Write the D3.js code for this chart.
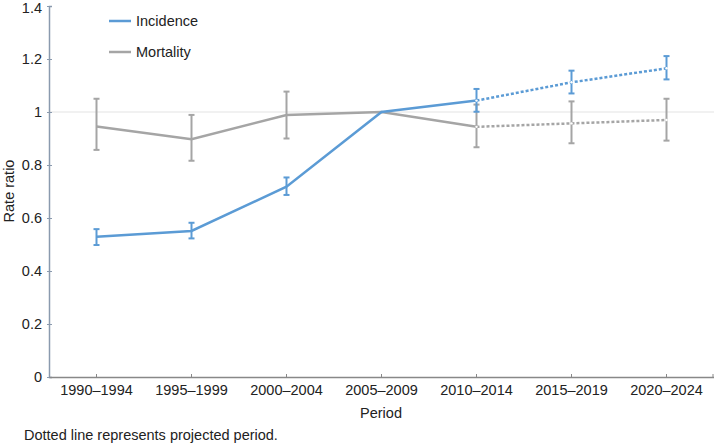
<!DOCTYPE html>
<html><head><meta charset="utf-8">
<script src="https://cdn.jsdelivr.net/npm/d3@7"></script>
<style>body{margin:0;background:#fff}svg{display:block;font-family:"Liberation Sans",Arial,sans-serif}</style>
</head><body><svg id="c" width="714" height="443"></svg>
<script>
const periods = ["1990–1994","1995–1999","2000–2004","2005–2009","2010–2014","2015–2019","2020–2024"];
const incidence = [0.529,0.551,0.718,1.0,1.043,1.112,1.165];
const incidenceLow = [0.498,0.523,0.687,1.0,1.001,1.07,1.123];
const incidenceHigh = [0.558,0.582,0.753,1.0,1.087,1.156,1.211];
const mortality = [0.945,0.897,0.989,1.0,0.944,0.957,0.97];
const mortalityLow = [0.857,0.816,0.9,1.0,0.867,0.882,0.892];
const mortalityHigh = [1.05,0.989,1.077,1.0,1.028,1.04,1.05];
const yTicks = [0,0.2,0.4,0.6,0.8,1,1.2,1.4];
const projectedFrom = 4;
const FS = 14.5;

const svg = d3.select("#c");
const x = d3.scaleBand().domain(periods).range([49,714]);
const y = d3.scaleLinear().domain([0,1.4]).range([377,6]);
const cx = d => x(d)+x.bandwidth()/2;

// gridline at 1
svg.append("line").attr("x1",49).attr("x2",714).attr("y1",y(1)).attr("y2",y(1)).attr("stroke","#e3e3e3").attr("stroke-width",1);

// y axis
const ya = svg.append("g").attr("transform","translate(49,0)")
  .call(d3.axisLeft(y).tickValues(yTicks).tickFormat(d3.format("~g")).tickSize(-3).tickPadding(7));
ya.select(".domain").attr("stroke","#8a9aae").attr("stroke-width",1.5);
ya.selectAll(".tick line").attr("stroke","#8a9aae").attr("x1",-2).attr("x2",3);
ya.selectAll("text").attr("font-size",FS).attr("fill","#222").attr("font-family","Liberation Sans, Arial, sans-serif");
ya.selectAll(".tick").filter(d=>d===1.4).select("text").attr("dy","0.45em");

// x axis
const xa = svg.append("g").attr("transform","translate(0,377)")
  .call(d3.axisBottom(x).tickSize(-3).tickPadding(8).tickSizeOuter(0));
xa.select(".domain").attr("stroke","#888").attr("stroke-width",1.5);
xa.selectAll(".tick line").attr("stroke","#888");
xa.selectAll("text").attr("font-size",FS).attr("fill","#222").attr("font-family","Liberation Sans, Arial, sans-serif");
xa.append("line").attr("x1",713).attr("x2",713).attr("y1",0).attr("y2",-3).attr("stroke","#888");

function series(vals, lo, hi, color){
  const pts = periods.map((p,i)=>({p,v:vals[i],lo:lo[i],hi:hi[i],i}));
  const line = d3.line().x(d=>cx(d.p)).y(d=>y(d.v));
  const eb = svg.append("g").attr("stroke",color).attr("stroke-width",2);
  pts.filter(d=>d.hi>d.lo).forEach(d=>{
    eb.append("line").attr("x1",cx(d.p)).attr("x2",cx(d.p)).attr("y1",y(d.lo)).attr("y2",y(d.hi));
    eb.append("line").attr("x1",cx(d.p)-3).attr("x2",cx(d.p)+3).attr("y1",y(d.lo)).attr("y2",y(d.lo));
    eb.append("line").attr("x1",cx(d.p)-3).attr("x2",cx(d.p)+3).attr("y1",y(d.hi)).attr("y2",y(d.hi));
  });
  svg.append("path").attr("d",line(pts.slice(0,projectedFrom+1))).attr("fill","none").attr("stroke",color).attr("stroke-width",2.5);
  svg.append("path").attr("d",line(pts.slice(projectedFrom))).attr("fill","none").attr("stroke",color).attr("stroke-width",2.5).attr("stroke-dasharray","3,2");
  svg.append("g").selectAll("circle").data(pts.slice(projectedFrom)).join("circle")
    .attr("cx",d=>cx(d.p)).attr("cy",d=>y(d.v)).attr("r",1.2).attr("fill","#fff");
}
series(mortality, mortalityLow, mortalityHigh, "#a5a5a5");
series(incidence, incidenceLow, incidenceHigh, "#5b9bd5");

// legend
const leg = [["Incidence","#5b9bd5",21],["Mortality","#a5a5a5",52]];
leg.forEach(([t,c,yy])=>{
  svg.append("line").attr("x1",109).attr("x2",131).attr("y1",yy).attr("y2",yy).attr("stroke",c).attr("stroke-width",2.5);
  svg.append("text").attr("x",136).attr("y",yy).attr("dy","0.35em").attr("font-size",FS).attr("fill","#222").text(t);
});

// axis titles
svg.append("text").attr("transform","translate(9,191) rotate(-90)").attr("text-anchor","middle").attr("dy","0.35em").attr("font-size",FS).attr("fill","#222").text("Rate ratio");
svg.append("text").attr("x",381).attr("y",413).attr("text-anchor","middle").attr("dy","0.35em").attr("font-size",FS).attr("fill","#222").text("Period");
svg.append("text").attr("x",24).attr("y",435).attr("dy","0.35em").attr("font-size",FS).attr("fill","#222").text("Dotted line represents projected period.");
</script></body></html>
